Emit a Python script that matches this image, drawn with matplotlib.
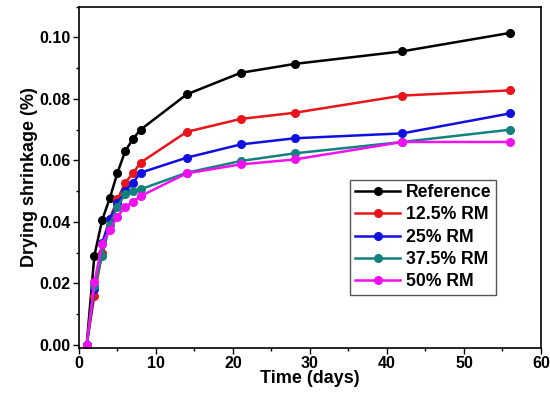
import numpy as np
import matplotlib.pyplot as plt
from matplotlib.ticker import MultipleLocator

plt.rcParams['font.family'] = ['Liberation Sans', 'DejaVu Sans']
plt.rcParams['font.weight'] = 'bold'

# drying shrinkage data (%)
days = [1, 2, 3, 4, 5, 6, 7, 8, 14, 21, 28, 42, 56]
reference = [0.0, 0.029, 0.0405, 0.0477, 0.056, 0.063, 0.067, 0.070, 0.0815, 0.0885, 0.0914, 0.0955, 0.1015]
rm_12_5 = [0.0, 0.016, 0.030, 0.041, 0.0473, 0.0527, 0.0558, 0.0593, 0.0693, 0.0735, 0.0755, 0.0811, 0.0828]
rm_25 = [0.0, 0.018, 0.033, 0.0408, 0.046, 0.050, 0.0527, 0.056, 0.0609, 0.0652, 0.0672, 0.0688, 0.0753]
rm_37_5 = [0.0, 0.019, 0.029, 0.039, 0.045, 0.049, 0.050, 0.0506, 0.056, 0.0598, 0.0623, 0.066, 0.070]
rm_50 = [0.0, 0.0203, 0.0327, 0.0375, 0.0417, 0.045, 0.0464, 0.0484, 0.0558, 0.0587, 0.0603, 0.066, 0.066]

labels = ['Reference', '12.5% RM', '25% RM', '37.5% RM', '50% RM']
colors = ['black', '#e8161b', '#1010e0', '#158080', '#f010f0']

fig = plt.figure(figsize=(5.5, 3.98), dpi=100)
ax = fig.add_axes([0.1436, 0.126, 0.84, 0.857])

for y, lab, c in zip([reference, rm_12_5, rm_25, rm_37_5, rm_50], labels, colors):
    ax.plot(days, y, '-o', color=c, lw=1.8, ms=5.5, label=lab)

ax.set_xlim(0, 60)
ax.set_ylim(-0.001, 0.11)
ax.xaxis.set_major_locator(MultipleLocator(10))
ax.xaxis.set_minor_locator(MultipleLocator(5))
ax.yaxis.set_major_locator(MultipleLocator(0.02))
ax.yaxis.set_minor_locator(MultipleLocator(0.01))
ax.yaxis.set_major_formatter(plt.FormatStrFormatter('%.2f'))
ax.tick_params(which='major', length=4, width=1, labelsize=11.5, pad=2)
ax.tick_params(which='minor', length=2.5, width=1)
for s in ax.spines.values():
    s.set_linewidth(1.2)

ax.set_xlabel('Time (days)', fontsize=13, fontweight='bold', labelpad=-1)
ax.set_ylabel('Drying shrinkage (%)', fontsize=13, fontweight='bold', labelpad=1)

leg = ax.legend(loc='upper left', bbox_to_anchor=(0.587, 0.493), fontsize=12.7,
                handlelength=2.6, fancybox=False, framealpha=1, borderpad=0.25,
                labelspacing=0.3, handletextpad=0.3, borderaxespad=0)
leg.get_frame().set_edgecolor('#555555')
leg.get_frame().set_linewidth(1)

plt.savefig('out.png', dpi=100)
